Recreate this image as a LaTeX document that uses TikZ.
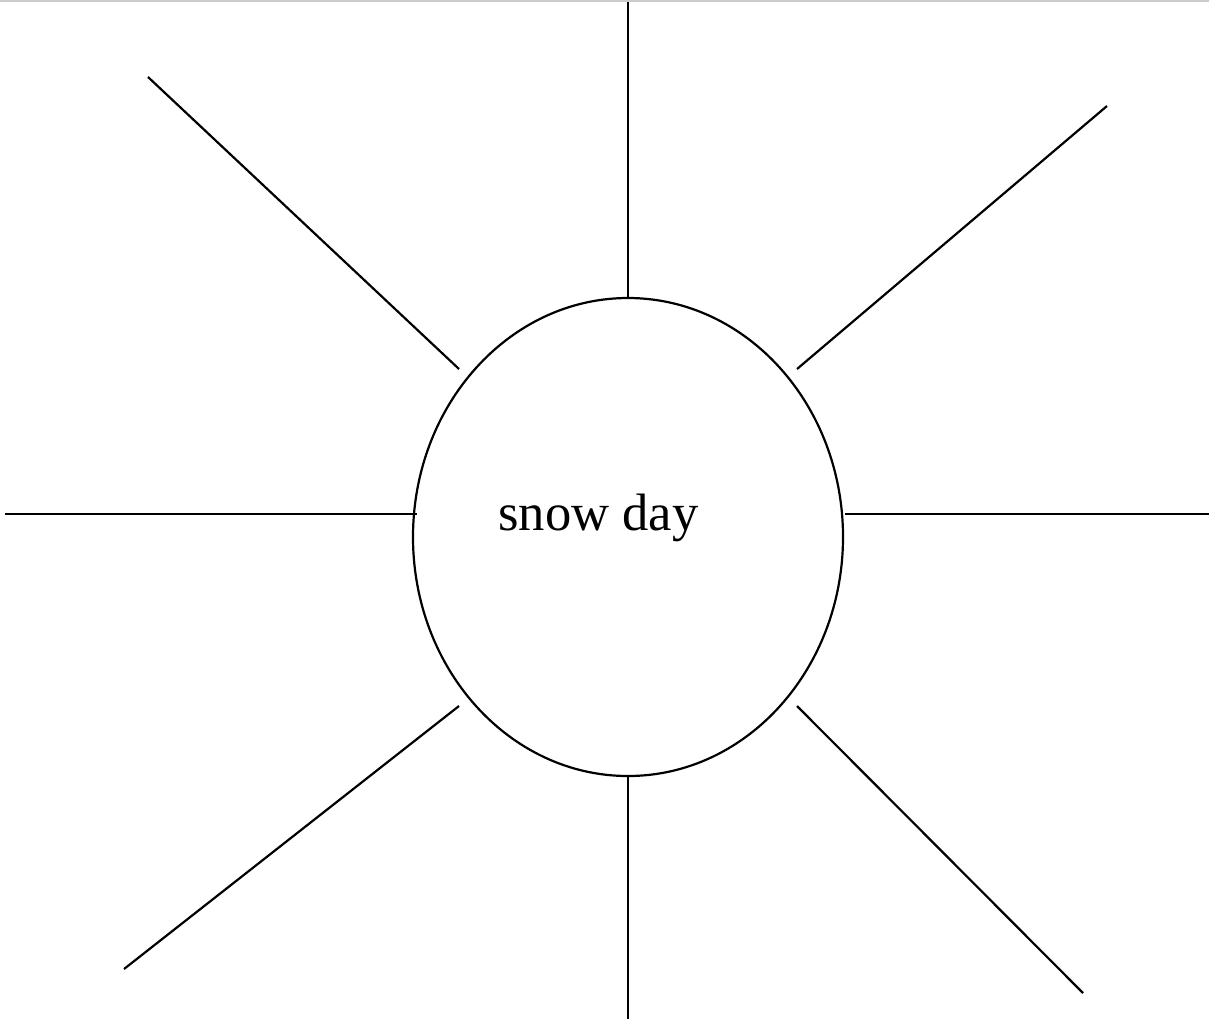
\documentclass[tikz,border=0pt]{standalone}
\usepackage{fontspec}
\setmainfont{Liberation Serif}
\usetikzlibrary{shapes.geometric}
\begin{document}
\begin{tikzpicture}[x=0.5pt,y=-0.5pt,
  ray/.style={draw=black,line width=1.1pt},
  hub/.style={draw=black,line width=1.1pt,ellipse,minimum width=430*0.5pt,minimum height=478*0.5pt,inner sep=0pt}]
\useasboundingbox (0,0) rectangle (1209,1019);
\fill[white] (0,0) rectangle (1209,1019);
\draw[line width=1pt,draw={rgb,255:red,204;green,204;blue,204}] (0,0.5) -- (1209,0.5);
\node[hub] (c) at (628,537) {};
\node[font=\fontsize{26.3}{32}\selectfont,anchor=base,inner sep=0pt] (t) at (598.5,530) {snow day};
% ray ends
\coordinate (n1) at (628,2);    \coordinate (n2) at (628,298);
\coordinate (s1) at (628,1019); \coordinate (s2) at (628,776);
\coordinate (w1) at (5,514);    \coordinate (w2) at (417,514);
\coordinate (e1) at (1209,514); \coordinate (e2) at (845,514);
\coordinate (nw1) at (148,77);  \coordinate (nw2) at (459,369);
\coordinate (ne1) at (1107,106);\coordinate (ne2) at (797,369);
\coordinate (sw1) at (124,969); \coordinate (sw2) at (459,706);
\coordinate (se1) at (1083,993);\coordinate (se2) at (797,706);
\foreach \r in {n,s,w,e,nw,ne,sw,se} {\draw[ray] (\r1) -- (\r2);}
\end{tikzpicture}
\end{document}
